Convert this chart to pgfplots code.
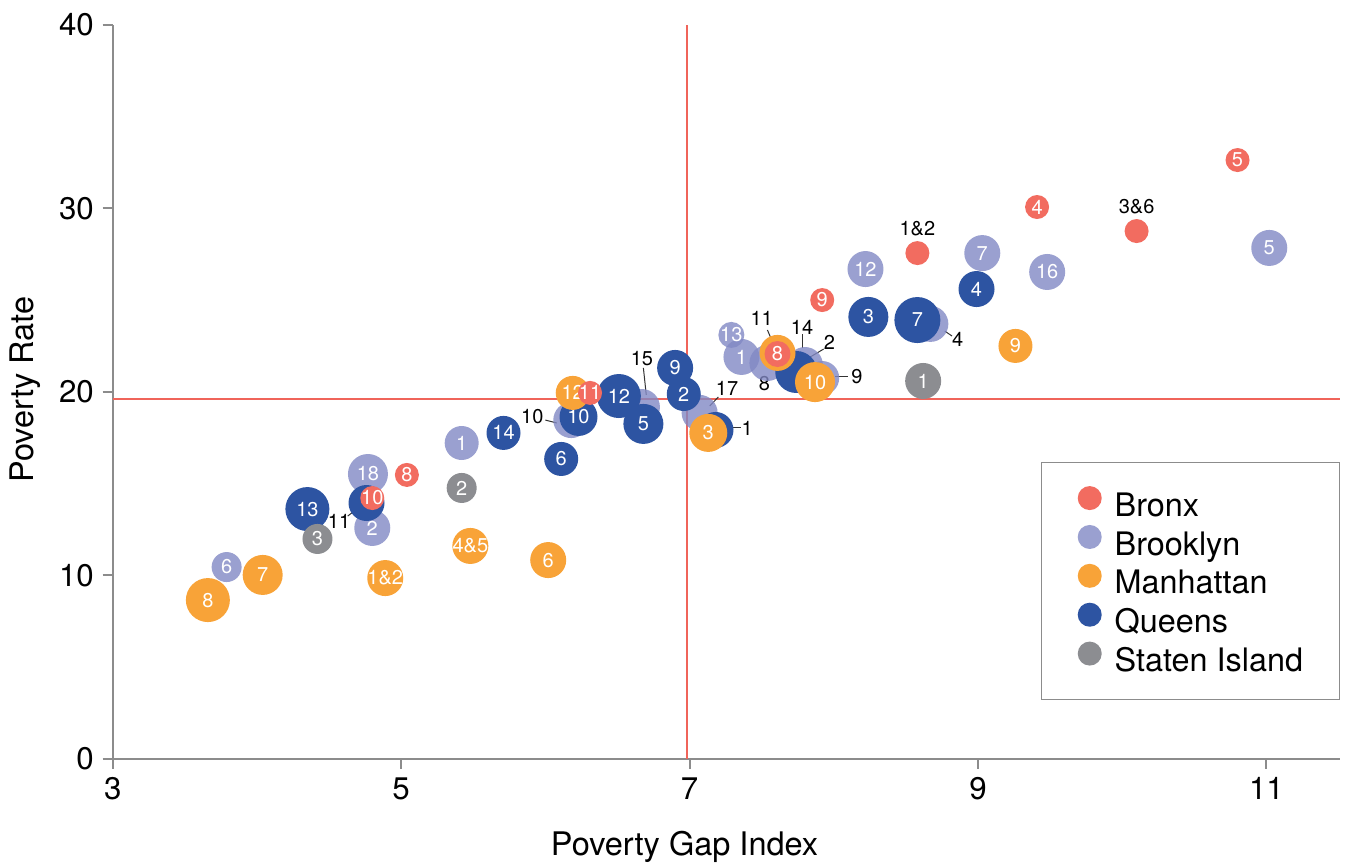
\documentclass[border=0pt]{standalone}
\usepackage{pgfplots}
\pgfplotsset{compat=1.18}
\usepackage{pgfplotstable}
\usepackage{fontspec}
\setmainfont{TeX Gyre Heros}

\definecolor{bronx}{RGB}{242,108,96}
\definecolor{brooklyn}{RGB}{129,136,196}
\definecolor{brooklynkey}{RGB}{154,160,208}
\definecolor{manhattan}{RGB}{248,163,56}
\definecolor{queens}{RGB}{45,84,162}
\definecolor{staten}{RGB}{140,141,145}
\definecolor{axisgray}{RGB}{140,140,140}
\definecolor{refline}{RGB}{240,100,90}

% x = poverty gap index, y = poverty rate, r = bubble radius (px), lab = district
\pgfplotstableread{
x y r lab
10.80 32.64 12 5
9.41 30.08 12 4
10.10 28.77 12 {}
8.58 27.57 12 {}
7.92 25.01 12 9
7.61 22.07 13 8
6.31 19.95 12 11
5.04 15.48 12 8
4.80 14.22 12 10
}\bronxdata

\pgfplotstableread{
x y r lab
11.02 27.85 18 5
9.48 26.54 18 16
9.03 27.57 18 7
8.22 26.70 18 12
8.67 23.71 18 {}
7.29 23.11 13 13
7.36 21.91 18 1
7.54 21.58 18 {}
7.80 21.47 18 {}
7.92 20.76 17 {}
7.07 18.86 18 {}
6.67 19.18 18 {}
6.18 18.47 18 {}
5.42 17.22 17 1
4.77 15.53 20 18
4.80 12.59 18 2
3.79 10.46 15 6
}\brooklyndata

\pgfplotstableread{
x y r lab
8.99 25.61 18 4
8.58 23.92 23 7
8.24 24.09 20 3
7.74 21.09 21 {}
6.90 21.31 18 9
6.96 19.89 17 2
6.51 19.78 22 12
6.68 18.26 20 5
6.23 18.64 19 10
7.18 17.93 18 {}
5.71 17.77 17 14
6.11 16.35 17 6
4.35 13.62 22 13
4.76 13.95 18 {}
}\queensdata

\pgfplotstableread{
x y r lab
8.62 20.60 18 1
5.42 14.77 15 2
4.42 11.99 15 3
}\statendata

\pgfplotstableread{
x y r lab
9.26 22.51 17 9
7.87 20.54 20 10
7.61 22.13 18 {}
6.19 19.95 17 12
7.13 17.77 19 3
5.48 11.61 18 4\&5
6.02 10.84 18 6
4.89 9.86 18 1\&2
4.04 10.03 20 7
3.66 8.66 22 8
}\manhattandata

\pgfplotsset{
  bubble/.style={
    scatter, only marks, mark=*, forget plot,
    point meta=\thisrow{r},
    visualization depends on={0.4*\thisrow{r} \as \brad},
    scatter/@pre marker code/.code={\scope[fill=#1, draw opacity=0, mark size=\brad pt]},
    scatter/@post marker code/.code={\endscope},
  },
  bubblelab/.style={
    only marks, mark=none, forget plot,
    point meta=explicit symbolic,
    nodes near coords,
    nodes near coords style={anchor=center, text=white, inner sep=0pt,
      font=\fontsize{8}{9}\selectfont},
  },
}

\begin{document}
\begin{tikzpicture}
\begin{axis}[
    scale only axis,
    width=490.9pt,
    height=293.6pt,
    xmin=3, xmax=11.51,
    ymin=0, ymax=40,
    xtick={3,5,7,9,11},
    ytick={0,10,20,30,40},
    axis x line*=bottom,
    axis y line*=left,
    axis line style={axisgray, line width=0.8pt},
    tick style={axisgray, line width=0.8pt},
    tick align=outside,
    major tick length=4pt,
    /pgf/number format/assume math mode=true,
    tick label style={font=\fontsize{12.5}{14}\selectfont},
    label style={font=\fontsize{13}{15}\selectfont},
    xlabel={Poverty Gap Index},
    ylabel={Poverty Rate},
    x label style={at={(axis description cs:0.466,-0.12)}, anchor=center},
    y label style={at={(axis description cs:-0.0713,0.503)}, anchor=center},
    legend style={at={(1,0.405)}, anchor=north east, draw=axisgray,
      line width=0.5pt, inner xsep=14.5pt, inner ysep=9.5pt, row sep=2pt,
      font=\fontsize{12.95}{15}\selectfont,
      nodes={inner sep=0pt},
      /tikz/every odd column/.append style={column sep=5.2pt},
      /tikz/every even column/.append style={text height=9pt, text depth=3pt}},
    legend cell align=left,
    legend image code/.code={\fill[#1, draw=none] (0pt,3.5pt) circle (4.8pt);},
]
\addlegendimage{fill=bronx}
\addlegendentry{Bronx}
\addlegendimage{fill=brooklynkey}
\addlegendentry{Brooklyn}
\addlegendimage{fill=manhattan}
\addlegendentry{Manhattan}
\addlegendimage{fill=queens}
\addlegendentry{Queens}
\addlegendimage{fill=staten}
\addlegendentry{Staten Island}

% average reference lines
\addplot[draw=refline, line width=0.75pt, mark=none, forget plot] coordinates {(6.98,0) (6.98,40)};
\addplot[draw=refline, line width=0.75pt, mark=none, forget plot] coordinates {(3,19.62) (11.51,19.62)};

\addplot[bubble={brooklyn, fill opacity=0.8}] table {\brooklyndata};
\addplot[bubblelab] table[meta=lab] {\brooklyndata};
\addplot[bubble=queens] table {\queensdata};
\addplot[bubblelab] table[meta=lab] {\queensdata};
\addplot[bubble=staten] table {\statendata};
\addplot[bubblelab] table[meta=lab] {\statendata};
\addplot[bubble=manhattan] table {\manhattandata};
\addplot[bubblelab] table[meta=lab] {\manhattandata};
\addplot[bubble=bronx] table {\bronxdata};
\addplot[bubblelab] table[meta=lab] {\bronxdata};

% outside labels and leader lines
\tikzset{ext/.style={font=\fontsize{8}{9}\selectfont, text=black, inner sep=0pt, anchor=center},
         lead/.style={black!80, line width=0.4pt}}
\node[ext] at (axis cs:10.10,30.08) {3\&6};
\node[ext] at (axis cs:8.58,28.88) {1\&2};
\node[ext] at (axis cs:7.50,24.03) {11};
\draw[lead] (axis cs:7.54,23.38) -- (axis cs:7.57,22.83);
\node[ext] at (axis cs:7.78,23.54) {14};
\draw[lead] (axis cs:7.78,23.16) -- (axis cs:7.78,22.40);
\node[ext] at (axis cs:7.97,22.72) {2};
\draw[lead] (axis cs:7.93,22.34) -- (axis cs:7.79,21.69);
\node[ext] at (axis cs:7.52,20.44) {8};
\node[ext] at (axis cs:8.16,20.82) {9};
\draw[lead] (axis cs:8.01,20.82) -- (axis cs:8.10,20.82);
\node[ext] at (axis cs:8.86,22.89) {4};
\draw[lead] (axis cs:8.77,23.32) -- (axis cs:8.82,23.05);
\node[ext] at (axis cs:7.26,20.22) {17};
\draw[lead] (axis cs:7.14,19.24) -- (axis cs:7.20,19.73);
\node[ext] at (axis cs:7.40,18.04) {1};
\draw[lead] (axis cs:7.29,18.04) -- (axis cs:7.36,18.04);
\node[ext] at (axis cs:6.67,21.80) {15};
\draw[lead] (axis cs:6.68,21.31) -- (axis cs:6.70,19.84);
\node[ext] at (axis cs:5.91,18.64) {10};
\draw[lead] (axis cs:6.00,18.47) -- (axis cs:6.08,18.31);
\node[ext] at (axis cs:4.57,12.97) {11};
\draw[lead] (axis cs:4.63,13.24) -- (axis cs:4.71,13.73);
\end{axis}
\pgfresetboundingbox
\path[use as bounding box] ([xshift=-45.08pt,yshift=-43.2pt]current axis.south west) rectangle ++(539.2pt,346.8pt);
\end{tikzpicture}
\end{document}
